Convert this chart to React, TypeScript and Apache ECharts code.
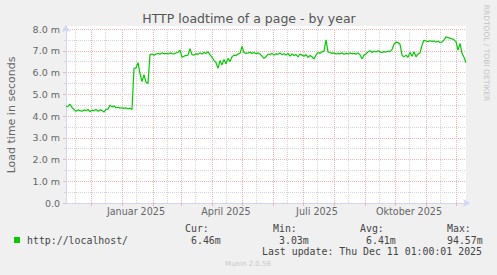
import React, { useEffect, useRef } from "react";
import * as echarts from "echarts";

// ---- data ----
const rangeStart = "2024-11-06T01:00:00Z";
const rangeEnd = "2025-12-11T01:00:00Z";
const stepDays = 2;
// load time (ms) read every 2 days from the picture
const loadValues: number[] = [
  4.43, 4.45, 4.54, 4.40, 4.30, 4.22, 4.28, 4.25, 4.22, 4.28,
  4.24, 4.30, 4.20, 4.27, 4.25, 4.30, 4.22, 4.28, 4.26, 4.18,
  4.30, 4.32, 4.50, 4.42, 4.46, 4.38, 4.40, 4.36, 4.38, 4.35,
  4.37, 4.32, 4.36, 4.30, 6.18, 6.22, 6.45, 5.95, 5.58, 5.90,
  5.55, 5.50, 6.82, 6.85, 6.80, 6.85, 6.88, 6.84, 6.90, 6.86,
  6.88, 6.85, 6.90, 6.87, 6.85, 6.90, 6.92, 7.03, 6.70, 6.75,
  6.78, 6.80, 7.10, 6.82, 6.80, 6.86, 6.84, 6.90, 6.85, 6.92,
  6.88, 6.95, 6.82, 6.70, 6.55, 6.45, 6.19, 6.55, 6.35, 6.60,
  6.40, 6.65, 6.50, 6.72, 6.80, 6.78, 6.85, 6.88, 7.20, 6.92,
  6.88, 6.90, 6.93, 6.88, 6.92, 6.86, 6.90, 6.85, 6.75, 6.65,
  6.72, 6.85, 6.82, 6.88, 6.80, 6.86, 6.84, 6.90, 6.82, 6.86,
  6.80, 6.88, 6.75, 6.85, 6.78, 6.82, 6.72, 6.85, 6.80, 6.75,
  6.82, 6.70, 6.78, 6.72, 6.62, 6.80, 6.92, 6.88, 6.95, 6.98,
  7.50, 6.95, 6.92, 6.88, 6.90, 6.85, 6.88, 6.86, 6.90, 6.84,
  6.88, 6.85, 6.90, 6.86, 6.88, 6.84, 6.90, 6.82, 6.62, 6.80,
  6.85, 6.95, 7.00, 6.92, 6.98, 6.94, 7.00, 6.95, 6.92, 6.96,
  6.94, 6.98, 6.96, 7.05, 7.30, 7.40, 7.38, 7.30, 6.80, 6.72,
  6.80, 6.70, 6.92, 6.75, 6.95, 6.72, 6.85, 6.90, 7.25, 7.48,
  7.45, 7.42, 7.46, 7.43, 7.45, 7.40, 7.44, 7.38, 7.40, 7.50,
  7.64, 7.60, 7.58, 7.55, 7.50, 7.42, 7.03, 7.34, 6.88, 6.70,
  6.46,
];

const yTickValues = [0, 1, 2, 3, 4, 5, 6, 7, 8];
const yTickLabels = ["0.0", "1.0 m", "2.0 m", "3.0 m", "4.0 m", "5.0 m", "6.0 m", "7.0 m", "8.0 m"];

const xLabelDates = ["2025-01-15", "2025-04-15", "2025-07-15", "2025-10-15"];
const xLabelTexts = ["Januar 2025", "April 2025", "Juli 2025", "Oktober 2025"];

const majorGridDates = [
  "2024-12-01", "2025-01-01", "2025-02-01", "2025-03-01", "2025-04-01", "2025-05-01",
  "2025-06-01", "2025-07-01", "2025-08-01", "2025-09-01", "2025-10-01", "2025-11-01", "2025-12-01",
];
const minorGridDates = [
  "2024-11-15", "2024-12-15", "2025-01-15", "2025-02-15", "2025-03-15", "2025-04-15",
  "2025-05-15", "2025-06-15", "2025-07-15", "2025-08-15", "2025-09-15", "2025-10-15", "2025-11-15",
];

const chartTitle = "HTTP loadtime of a page - by year";
const yAxisTitle = "Load time in seconds";
const sideCredit = "RRDTOOL / TOBI OETIKER";
const seriesName = "http://localhost/";
const statLabels = ["Cur:", "Min:", "Avg:", "Max:"];
const statValues = ["6.46m", "3.03m", "6.41m", "94.57m"];
const lastUpdate = "Last update: Thu Dec 11 01:00:01 2025";
const footer = "Munin 2.0.56";

// ---- styling / layout ----
const LINE_COLOR = "#00cc00";
const FONT_COLOR = "#666666";
const AXIS_COLOR = "#CFD6F8";
const MGRID = "#f0b4b4";
const GRID = "#d4d4d4";
const statLabelX = [185, 273, 360, 447];
const statValueX = [191, 279, 366, 447];

const ts = (s: string) => new Date(s.length === 10 ? s + "T00:00:00Z" : s).getTime();

export default function App() {
  const ref = useRef<HTMLDivElement>(null);
  useEffect(() => {
    if (!ref.current) return;
    const chart = echarts.init(ref.current, null, { renderer: "svg" });
    const start = ts(rangeStart);
    const end = ts(rangeEnd);
    const DAY = 86400000;
    const data = loadValues.map((v, i) => [start + i * stepDays * DAY, v]);
    const labelTs = xLabelDates.map(ts);
    const mono = "'DejaVu Sans Mono', monospace";
    const sans = "'DejaVu Sans', sans-serif";

    const markData: any[] = [
      ...minorGridDates.map((d) => ({ xAxis: ts(d), lineStyle: { color: GRID, type: [1, 1], width: 1 } })),
      ...majorGridDates.map((d) => ({ xAxis: ts(d), lineStyle: { color: MGRID, type: [1, 1], width: 1 } })),
    ];

    const graphic: any[] = [
      { type: "rect", shape: { x: 66, y: 26, width: 400, height: 3 }, style: { fill: "#ffffff" }, silent: true },
      {
        type: "text", x: 249, y: 18.5,
        style: { text: chartTitle, fontSize: 12.5, fontFamily: sans, fill: "#555555", align: "center", verticalAlign: "middle" },
      },
      {
        type: "text", x: 11, y: 115, rotation: Math.PI / 2,
        style: { text: yAxisTitle, fontSize: 11, fontFamily: sans, fill: FONT_COLOR, align: "center", verticalAlign: "middle" },
      },
      {
        type: "text", x: 486, y: 53, rotation: -Math.PI / 2,
        style: { text: sideCredit, fontSize: 7.5, fontFamily: sans, fill: "#c4c4c4", align: "center", verticalAlign: "middle" },
      },
      { type: "rect", shape: { x: 14, y: 237, width: 6, height: 6 }, style: { fill: LINE_COLOR } },
      {
        type: "text", x: 27, y: 240,
        style: { text: seriesName, fontSize: 9.9, fontFamily: mono, fill: "#444444", align: "left", verticalAlign: "middle" },
      },
      ...statLabels.map((t, i) => ({
        type: "text", x: statLabelX[i], y: 228.5,
        style: { text: t, fontSize: 9.9, fontFamily: mono, fill: "#444444", align: "left", verticalAlign: "middle" },
      })),
      ...statValues.map((t, i) => ({
        type: "text", x: statValueX[i], y: 240,
        style: { text: t, fontSize: 9.9, fontFamily: mono, fill: "#444444", align: "left", verticalAlign: "middle" },
      })),
      {
        type: "text", x: 262, y: 251.5,
        style: { text: lastUpdate, fontSize: 9.9, fontFamily: mono, fill: "#444444", align: "left", verticalAlign: "middle" },
      },
      {
        type: "text", x: 248, y: 264,
        style: { text: footer, fontSize: 7, fontFamily: sans, fill: "#c8c8c8", align: "center", verticalAlign: "middle" },
      },
    ];

    chart.setOption({
      animation: false,
      backgroundColor: "#f0f0f0",
      textStyle: { fontFamily: sans },
      grid: { left: 66, right: 31, top: 29, bottom: 72, show: true, backgroundColor: "#ffffff", borderWidth: 0 },
      xAxis: {
        type: "value",
        min: start,
        max: end,
        axisLine: { show: true, lineStyle: { color: AXIS_COLOR, width: 1 }, symbol: ["none", "arrow"], symbolSize: [6, 7], symbolOffset: [0, 4] },
        axisTick: { show: true, length: 3, customValues: majorGridDates.map(ts), lineStyle: { color: MGRID } },
        axisLabel: {
          customValues: labelTs,
          margin: 3,
          color: FONT_COLOR,
          fontSize: 9.6,
          fontFamily: sans,
          showMinLabel: true,
          showMaxLabel: true,
          formatter: (v: number) => {
            const k = labelTs.findIndex((t) => Math.abs(t - v) < 3600000);
            return k >= 0 ? xLabelTexts[k] : "";
          },
        },
        splitLine: { show: false },
      },
      yAxis: {
        type: "value",
        min: 0,
        max: 8,
        interval: 1,
        axisLine: { show: true, lineStyle: { color: AXIS_COLOR, width: 1 }, symbol: ["none", "arrow"], symbolSize: [6, 7], symbolOffset: [0, 4] },
        axisTick: { show: true, length: 3, lineStyle: { color: MGRID } },
        minorTick: { show: true, splitNumber: 2, length: 2, lineStyle: { color: GRID } },
        axisLabel: {
          margin: 6,
          color: FONT_COLOR,
          fontSize: 9.5,
          fontFamily: sans,
          formatter: (v: number) => {
            const k = yTickValues.indexOf(Math.round(v * 1000) / 1000);
            return k >= 0 ? yTickLabels[k] : "";
          },
        },
        splitLine: { show: true, lineStyle: { color: MGRID, type: [1, 1], width: 1 } },
        minorSplitLine: { show: true, lineStyle: { color: GRID, type: [1, 1], width: 1 } },
      },
      graphic,
      series: [
        {
          type: "line",
          name: seriesName,
          data,
          showSymbol: false,
          symbol: "none",
          z: 3,
          lineStyle: { color: LINE_COLOR, width: 1.2 },
          markLine: {
            silent: true,
            symbol: ["none", "none"],
            z: 1,
            label: { show: false },
            emphasis: { disabled: true },
            data: markData,
            animation: false,
          },
        },
      ],
    });
    return () => chart.dispose();
  }, []);
  return <div ref={ref} style={{ position: "fixed", left: 0, top: 0, width: 497, height: 275 }} />;
}
